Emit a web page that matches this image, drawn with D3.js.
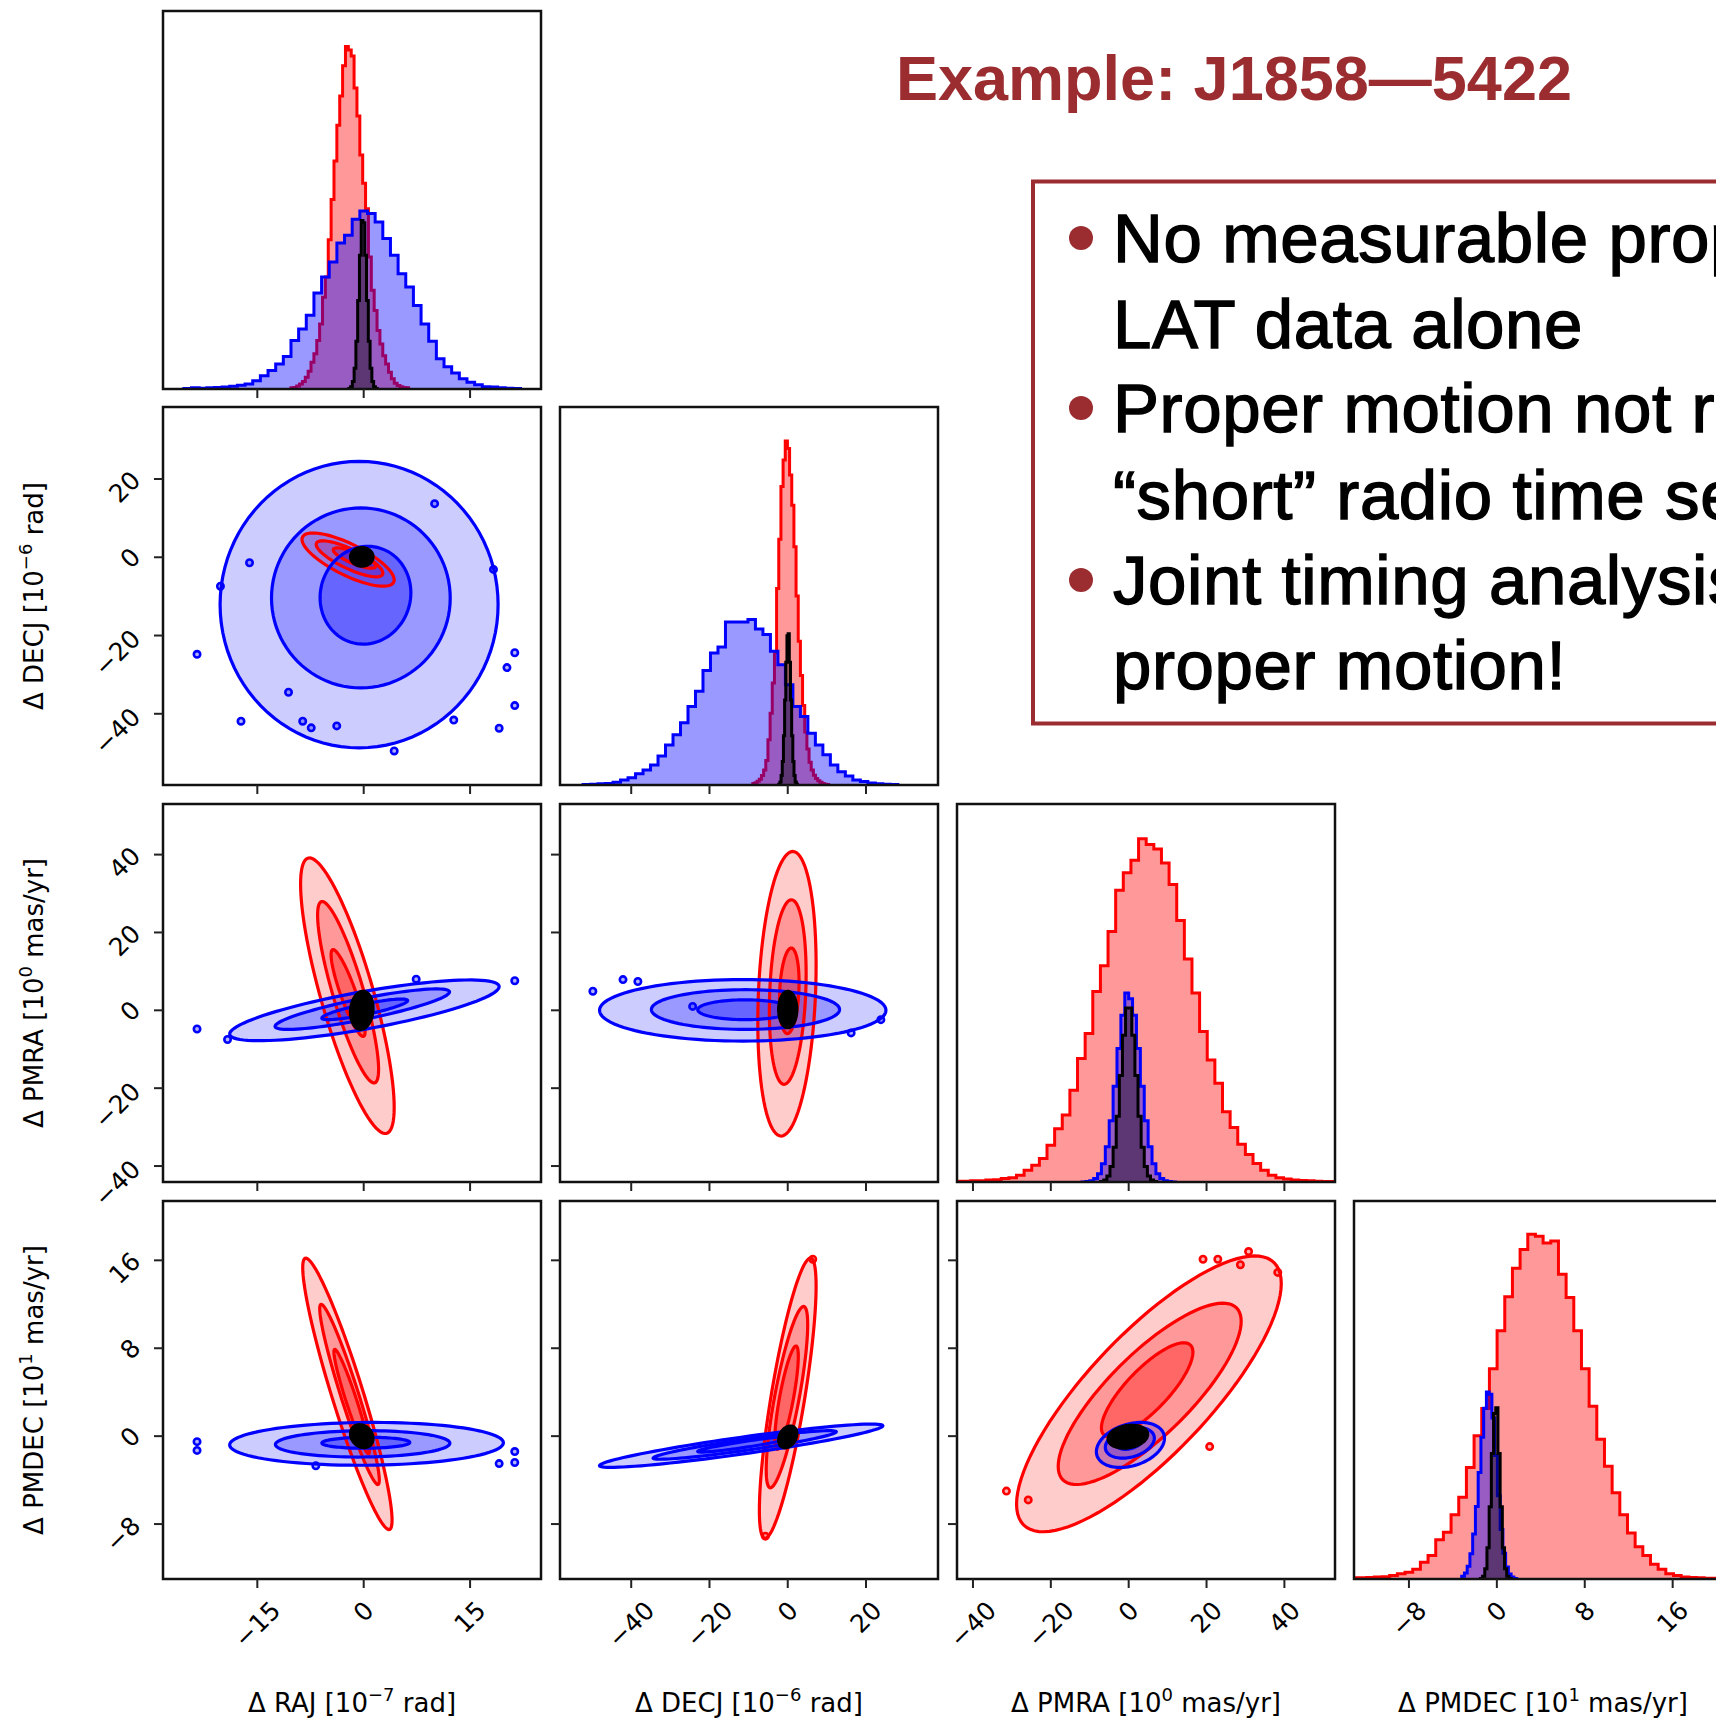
<!DOCTYPE html>
<html>
<head>
<meta charset="utf-8">
<script src="https://cdn.jsdelivr.net/npm/d3@7"></script>
<style>
  body { margin: 0; background: #fff; }
  svg { display: block; }
</style>
</head>
<body>
<svg width="1716" height="1723"></svg>
<script>
// ---- axes (one per parameter) ----
var paramNames = ["RAJ", "DECJ", "PMRA", "PMDEC"];
var axisLabels = [["\u0394 RAJ [10", "\u22127", " rad]"],
                  ["\u0394 DECJ [10", "\u22126", " rad]"],
                  ["\u0394 PMRA [10", "0", " mas/yr]"],
                  ["\u0394 PMDEC [10", "1", " mas/yr]"]];
var axisRanges = [[-28.3, 25.0], [-58.2, 38.4], [-44.1, 53.0], [-13.0, 21.4]];
var tickValues = [[-15, 0, 15], [-40, -20, 0, 20], [-40, -20, 0, 20, 40], [-8, 0, 8, 16]];

// ---- 1D histograms: [first bin edge, bin width] + heights (% of panel) ----
var rajRedBins = [-10.26, 0.4047];
var rajRed = [0.3,0.4,0.8,1.3,2.0,3.1,4.7,7.1,9.3,12.8,17.2,24.3,29.6,39.5,50.1,60.3,69.8,77.5,85.5,90.6,89.7,88.1,79.6,72.2,61.9,54.4,47.7,34.9,26.1,20.8,15.5,11.9,8.8,6.6,4.4,2.7,1.5,0.9,0.6,0.4,0.3];
var rajBlueBins = [-25.36, 1.079];
var rajBlue = [0.1,0.3,0.2,0.3,0.4,0.5,0.7,1.0,1.3,2.2,3.5,4.9,6.6,8.6,12.8,15.9,19.5,25.4,29.6,33.6,38.6,40.7,44.9,47.1,46.4,44.2,39.8,35.4,30.5,27.0,22.1,17.2,12.6,8.0,5.9,4.2,2.7,1.8,1.1,0.6,0.5,0.3,0.2,0.1];
var rajBlackBins = [-2.1, 0.25];
var rajBlack = [0.1,0.6,2.0,5.5,12.6,23.4,35.4,44.6,44.0,35.4,23.4,12.6,5.5,2.0,0.6,0.1];

var decRedBins = [-8.93, 0.553];
var decRed = [0.4,0.6,1.0,1.5,2.5,4.0,6.5,12,19,27,35,52,65,79,86,91,89,82,74,63,50,38,29,21,14,9.5,6,4,2.6,1.7,1.1,0.7,0.4,0.2,0.1];
var decBlueBins = [-52.3, 1.915];
var decBlue = [0.1,0.2,0.3,0.4,0.7,1.3,1.9,3.0,4.0,5.3,7.7,10.6,13.3,16.5,20.8,24.8,30.3,34.9,36.5,43.1,43.1,43.1,43.8,41.3,39.8,35.4,31.8,26.5,20.8,18.1,13.7,10.6,8.0,5.3,3.5,2.4,1.3,0.9,0.5,0.3,0.2,0.1];
var decBlackBins = [-2.3, 0.3];
var decBlack = [0.2,0.8,2.5,6.2,13,22.5,32.5,39.5,40,32.5,22.5,13,6.2,2.5,0.8,0.2];

var pmraRedBins = [-44.5, 1.96];
var pmraRed = [0.2,0.2,0.3,0.3,0.5,0.6,0.9,1.1,1.8,3.1,4.4,6.2,9.7,14.1,17.7,24.3,32.7,39.3,50.4,57.2,66.3,77.2,81.8,85.1,90.8,89.3,88.1,84.4,78.7,69.2,59.0,50.0,39.8,32.3,26.1,18.6,14.4,10.0,7.3,4.9,3.1,1.8,1.1,0.8,0.5,0.4,0.3,0.2,0.1,0.1];
var pmraBlueBins = [-12, 1.0];
var pmraBlue = [0.03,0.1,0.3,0.9,2.2,4.8,9.3,16.2,25.3,35.3,44.1,50.0,48.5,44.1,35.3,25.3,16.2,9.3,4.8,2.2,0.9,0.3,0.1,0.03];
var pmraBlackBins = [-7.2, 0.8];
var pmraBlack = [0.1,0.5,1.6,4.1,9.2,17.4,28.2,38.8,46.0,46.0,38.8,28.2,17.4,9.2,4.1,1.6,0.5,0.1];

var pmdecRedBins = [-13.24, 0.698];
var pmdecRed = [0.3,0.3,0.4,0.5,0.6,0.9,1.4,1.8,2.6,4.4,6.2,10.4,12.4,17.0,21.6,29.5,37.9,45.1,55.6,65.7,74.7,82.2,87.2,91.2,90.7,88.9,89.4,80.6,74.5,65.7,55.6,45.7,37.0,29.8,22.8,17.0,12.2,8.5,6.2,3.9,2.6,1.4,0.9,0.5,0.4,0.3,0.2,0.2,0.1,0.1];
var pmdecBlueBins = [-3.2, 0.25];
var pmdecBlue = [0.7,1.6,3.4,6.7,11.9,19.2,28.2,37.5,45.2,49.5,48.9,42.6,32.7,22,13.1,6.8,3.2,1.3,0.5,0.15];
var pmdecBlackBins = [-1.5, 0.2];
var pmdecBlack = [0.1,0.7,2.7,8.3,19.1,33.2,43.8,45.3,33.2,19.1,8.3,2.7,0.7,0.1];

// ---- 2D contour levels, outer -> inner: [cx, cy, half-extent x, half-extent y, tilt] ----
var c10Red   = [[-2.2, -0.6, 6.5, 6.8, -0.76], [-2.0, -0.4, 4.7, 4.6, -0.8], [-1.3, -0.2, 3.0, 2.6, -0.8]];
var c10Blue  = [[-0.65, -12.1, 19.6, 36.6, 0.0], [-0.4, -10.4, 12.6, 23.0, 0.0], [0.25, -9.7, 6.4, 12.5, 0.05]];
var c10Black = [[-0.27, 0.1, 1.6, 2.4, 0], [-0.27, 0.1, 1.1, 1.6, 0], [-0.27, 0.1, 0.6, 0.9, 0]];

var c20Red   = [[-2.3, 3.75, 6.6, 35.4, -0.81], [-2.2, 4.65, 4.3, 23.3, -0.85], [-2.2, 4.45, 2.4, 11.15, -0.88]];
var c20Blue  = [[0.1, 0.0, 19.0, 7.8, 0.78], [-0.2, 0.3, 12.3, 5.2, 0.85], [0.15, 0.25, 6.05, 2.65, 0.85]];
var c20Black = [[-0.27, 0, 1.6, 4.9, 0.1], [-0.27, 0, 1.1, 3.3, 0.1], [-0.27, 0, 0.6, 1.8, 0.1]];

var c30Red   = [[-2.3, 3.85, 6.3, 12.35, -0.93], [-2.0, 3.8, 4.2, 8.2, -0.95], [-1.7, 3.15, 2.5, 4.75, -0.95]];
var c30Blue  = [[0.4, -0.7, 19.3, 1.95, 0.05], [-0.15, -0.7, 12.3, 1.2, 0.05], [0.3, -0.6, 6.2, 0.5, 0.05]];
var c30Black = [[-0.27, 0, 1.6, 1.05, -0.2], [-0.27, 0, 1.1, 0.7, -0.2], [-0.27, 0, 0.6, 0.4, -0.2]];

var c21Red   = [[-0.2, 4.25, 7.45, 36.55, 0.2], [0, 4.7, 4.7, 23.7, 0.2], [0.4, 5, 2.5, 11, 0.2]];
var c21Blue  = [[-11.5, 0, 36.6, 7.9, 0.0], [-10.8, 0.2, 24.05, 5.1, 0.0], [-10.85, 0.15, 12.15, 2.55, 0]];
var c21Black = [[0, 0.2, 2.35, 4.7, 0], [0, 0.2, 1.6, 3.2, 0], [0, 0.2, 0.9, 1.8, 0]];

var c31Red   = [[0, 3.45, 7.25, 12.75, 0.8], [-0.2, 3.55, 5.3, 8.25, 0.8], [-0.3, 3.5, 3.0, 4.7, 0.8]];
var c31Blue  = [[-11.9, -0.87, 36.2, 1.97, 0.92], [-11.0, -0.8, 23.4, 1.3, 0.92], [-11.0, -0.75, 12, 0.7, 0.92]];
var c31Black = [[0, -0.07, 2.35, 1.0, 0.3], [0, -0.07, 1.6, 0.7, 0.3], [0, -0.07, 0.9, 0.4, 0.3]];

var c32Red   = [[5.2, 3.85, 34, 12.55, 0.8], [5.4, 3.85, 23.5, 8.25, 0.8], [4.75, 4.2, 11.75, 4.3, 0.8]];
var c32Blue  = [[0.45, -0.8, 8.75, 2.05, 0.3], [0.3, -0.6, 6.3, 1.4, 0.3], [0.2, -0.4, 3.6, 0.8, 0.3]];
var c32Black = [[-0.2, -0.05, 5.1, 1.05, 0.2], [-0.2, -0.05, 3.6, 0.75, 0.2], [-0.2, -0.05, 2, 0.45, 0.2]];

// small isolated contour islands [x, y]
var c10BlueDots = [[-23.5,-24.8],[-20.2,-7.4],[-16.1,-1.4],[-17.3,-41.9],[-10.6,-34.5],[-8.6,-41.9],[-7.4,-43.6],[-3.8,-43.1],[4.3,-49.5],[10,13.7],[18.3,-3.1],[21.3,-24.4],[20.2,-28.2],[21.3,-37.9],[12.7,-41.6],[19.1,-43.7]];
var c20BlueDots = [[-23.5,-4.8],[-19.2,-7.5],[21.3,7.6],[7.4,8.0]];
var c30BlueDots = [[-23.5,-0.5],[-23.5,-1.3],[19.1,-2.5],[21.3,-2.4],[21.3,-1.4],[-6.75,-2.7]];
var c21BlueDots = [[-49.8,4.9],[-42.1,7.9],[-38.3,7.4],[-24.3,1.0],[23.8,-2.4],[16.2,-5.8]];
var c31RedDots  = [[6.4,16.1],[-5.7,-9.1]];
var c32RedDots  = [[-31.4,-5.0],[-25.8,-5.8],[19.1,16.1],[22.9,16.1],[30.8,16.8],[28.7,15.6],[38.3,14.9],[20.8,-0.95]];

// ---- text ----
var titleText = "Example: J1858\u20145422";
var boxLines = ["No measurable proper motion from", "LAT data alone", "Proper motion not resolved by",
                "\u201cshort\u201d radio time series", "Joint timing analysis yields", "proper motion!"];
var boxBullets = [true, false, true, false, true, false];

var hists = [
  [[rajRedBins, rajRed], [rajBlueBins, rajBlue], [rajBlackBins, rajBlack]],
  [[decRedBins, decRed], [decBlueBins, decBlue], [decBlackBins, decBlack]],
  [[pmraRedBins, pmraRed], [pmraBlueBins, pmraBlue], [pmraBlackBins, pmraBlack]],
  [[pmdecRedBins, pmdecRed], [pmdecBlueBins, pmdecBlue], [pmdecBlackBins, pmdecBlack]]
];
// [red levels, blue levels, black levels, red islands, blue islands]
var contours = {
  "1-0": [c10Red, c10Blue, c10Black, null, c10BlueDots],
  "2-0": [c20Red, c20Blue, c20Black, null, c20BlueDots],
  "3-0": [c30Red, c30Blue, c30Black, null, c30BlueDots],
  "2-1": [c21Red, c21Blue, c21Black, null, c21BlueDots],
  "3-1": [c31Red, c31Blue, c31Black, c31RedDots, null],
  "3-2": [c32Red, c32Blue, c32Black, c32RedDots, null]
};

var svg = d3.select("svg"),
    size = 378,
    panelLeft = [163, 560, 957, 1354],
    panelTop = [11, 407, 804, 1201],
    seriesColor = ["#ff0000", "#0000ff", "#000000"],
    tickFont = "DejaVu Sans",
    tickSize = 25,
    tickLen = 9;

svg.append("rect").attr("width", 1716).attr("height", 1723).attr("fill", "#fff");

var xs = axisRanges.map(function (d, i) { return d3.scaleLinear().domain(d).range([panelLeft[i], panelLeft[i] + size]); });
var ys = axisRanges.map(function (d, i) { return d3.scaleLinear().domain(d).range([panelTop[i] + size, panelTop[i]]); });

var defs = svg.append("defs");

function ellipsePoints(e) {                                              // level ellipse in data units
  var pts = [], s = Math.sqrt(1 - e[4] * e[4]);
  for (var i = 0; i < 96; i++) {
    var t = i / 96 * 2 * Math.PI;
    pts.push([e[0] + e[2] * Math.cos(t), e[1] + e[3] * (e[4] * Math.cos(t) + s * Math.sin(t))]);
  }
  return pts;
}

function stepPoints(bins, h) {
  var pts = [[bins[0], 0]];
  h.forEach(function (v, i) {
    pts.push([bins[0] + i * bins[1], v]);
    pts.push([bins[0] + (i + 1) * bins[1], v]);
  });
  pts.push([bins[0] + h.length * bins[1], 0]);
  return pts;
}

function drawXTicks(col, row, withLabels) {
  var yb = panelTop[row] + size;
  tickValues[col].forEach(function (v) {
    var x = xs[col](v);
    svg.append("line").attr("x1", x).attr("x2", x).attr("y1", yb).attr("y2", yb + tickLen)
      .attr("stroke", "#222").attr("stroke-width", 2);
    if (withLabels) {
      var t = svg.append("text")
        .attr("font-family", tickFont).attr("font-size", tickSize)
        .attr("text-anchor", "middle").attr("dominant-baseline", "central")
        .text(v < 0 ? "\u2212" + Math.abs(v) : String(v));
      var w = t.node().getComputedTextLength(),
          half = (w + 0.9 * tickSize) / (2 * Math.SQRT2);
      t.attr("transform", "translate(" + x + "," + (yb + 19 + half) + ") rotate(-45)");
    }
  });
}

function drawYTicks(row, col, withLabels) {
  var xl = panelLeft[col];
  tickValues[row].forEach(function (v) {
    var y = ys[row](v);
    svg.append("line").attr("x1", xl - tickLen).attr("x2", xl).attr("y1", y).attr("y2", y)
      .attr("stroke", "#222").attr("stroke-width", 2);
    if (withLabels) {
      var t = svg.append("text")
        .attr("font-family", tickFont).attr("font-size", tickSize)
        .attr("text-anchor", "middle").attr("dominant-baseline", "central")
        .text(v < 0 ? "\u2212" + Math.abs(v) : String(v));
      var w = t.node().getComputedTextLength(),
          half = (w + 0.9 * tickSize) / (2 * Math.SQRT2);
      t.attr("transform", "translate(" + (xl - 19 - half) + "," + (y + 0.45 * Math.max(0, w - 14)) + ") rotate(-45)");
    }
  });
}

for (var row = 0; row < 4; row++) {
  for (var col = 0; col <= row; col++) {
    var x0 = panelLeft[col], y0 = panelTop[row];
    var clipId = "clip" + row + col;
    defs.append("clipPath").attr("id", clipId)
      .append("rect").attr("x", x0).attr("y", y0).attr("width", size).attr("height", size);
    var g = svg.append("g").attr("clip-path", "url(#" + clipId + ")");

    if (row === col) {                                                  // diagonal: step histograms
      var xh = xs[col],
          yh = d3.scaleLinear().domain([0, 100]).range([y0 + size, y0]);
      var line = d3.line().x(function (d) { return xh(d[0]); }).y(function (d) { return yh(d[1]); });
      hists[col].forEach(function (s, k) {
        var pts = stepPoints(s[0], s[1]);
        g.append("path").attr("d", line(pts) + "Z")
          .attr("fill", seriesColor[k]).attr("fill-opacity", 0.4).attr("stroke", "none");
        g.append("path").attr("d", line(pts))
          .attr("fill", "none").attr("stroke", seriesColor[k])
          .attr("stroke-width", 3).attr("stroke-linejoin", "miter");
      });
    } else {                                                            // off-diagonal: contours
      var xc = xs[col], yc = ys[row];
      var cl = d3.line().x(function (d) { return xc(d[0]); }).y(function (d) { return yc(d[1]); })
        .curve(d3.curveLinearClosed);
      var set = contours[row + "-" + col];
      var levelOpacity = [0.2, 0.25, 0.333];
      [0, 1].forEach(function (k) {                                     // filled bands first
        set[k].forEach(function (e, j) {
          g.append("path").attr("d", cl(ellipsePoints(e)))
            .attr("fill", seriesColor[k]).attr("fill-opacity", levelOpacity[j]).attr("stroke", "none");
        });
      });
      [0, 1].forEach(function (k) {                                     // then contour lines
        set[k].forEach(function (e) {
          g.append("path").attr("d", cl(ellipsePoints(e)))
            .attr("fill", "none").attr("stroke", seriesColor[k]).attr("stroke-width", 3.2);
        });
        var dots = set[3 + k];
        if (dots) {
          dots.forEach(function (p) {
            g.append("circle").attr("cx", xc(p[0])).attr("cy", yc(p[1])).attr("r", 3.2)
              .attr("fill", seriesColor[k]).attr("fill-opacity", 0.3)
              .attr("stroke", seriesColor[k]).attr("stroke-width", 2.6);
          });
        }
      });
      set[2].forEach(function (e) {
        g.append("path").attr("d", cl(ellipsePoints(e)))
          .attr("fill", "#000").attr("stroke", "#000").attr("stroke-width", 3);
      });
    }

    svg.append("rect").attr("x", x0).attr("y", y0).attr("width", size).attr("height", size)
      .attr("fill", "none").attr("stroke", "#111").attr("stroke-width", 2.5);

    drawXTicks(col, row, row === 3);
    if (col !== row) drawYTicks(row, col, col === 0);
  }
}

// axis labels with superscript exponents
function addLabel(t, parts) {
  t.append("tspan").text(parts[0]);
  t.append("tspan").attr("dy", -11).attr("font-size", 18).text(parts[1]);
  t.append("tspan").attr("dy", 11).text(parts[2]);
}

axisLabels.forEach(function (p, i) {
  var t = svg.append("text")
    .attr("x", panelLeft[i] + size / 2).attr("y", 1712)
    .attr("font-family", tickFont).attr("font-size", 26)
    .attr("text-anchor", "middle");
  addLabel(t, p);
  if (i > 0) {
    var ty = svg.append("text")
      .attr("transform", "translate(43," + (panelTop[i] + size / 2) + ") rotate(-90)")
      .attr("font-family", tickFont).attr("font-size", 26)
      .attr("text-anchor", "middle");
    addLabel(ty, p);
  }
});

// title and text box
var accent = "#9b2d30";
svg.append("text")
  .attr("x", 896).attr("y", 100)
  .attr("font-family", "Liberation Sans, Arial, sans-serif").attr("font-weight", "bold")
  .attr("font-size", 63).attr("fill", accent)
  .text(titleText);

svg.append("rect")
  .attr("x", 1033).attr("y", 181.5).attr("width", 760).attr("height", 542)
  .attr("fill", "none").attr("stroke", accent).attr("stroke-width", 4);

var lineY = [262, 348, 432, 519, 604, 689];
boxLines.forEach(function (s, i) {
  svg.append("text")
    .attr("x", 1113).attr("y", lineY[i])
    .attr("font-family", "Liberation Sans, Arial, sans-serif")
    .attr("font-size", 69).attr("letter-spacing", 0.6)
    .attr("fill", "#000").attr("stroke", "#000").attr("stroke-width", 1.4)
    .text(s);
  if (boxBullets[i]) {
    svg.append("circle").attr("cx", 1081).attr("cy", lineY[i] - 24).attr("r", 12).attr("fill", accent);
  }
});
</script>
</body>
</html>
